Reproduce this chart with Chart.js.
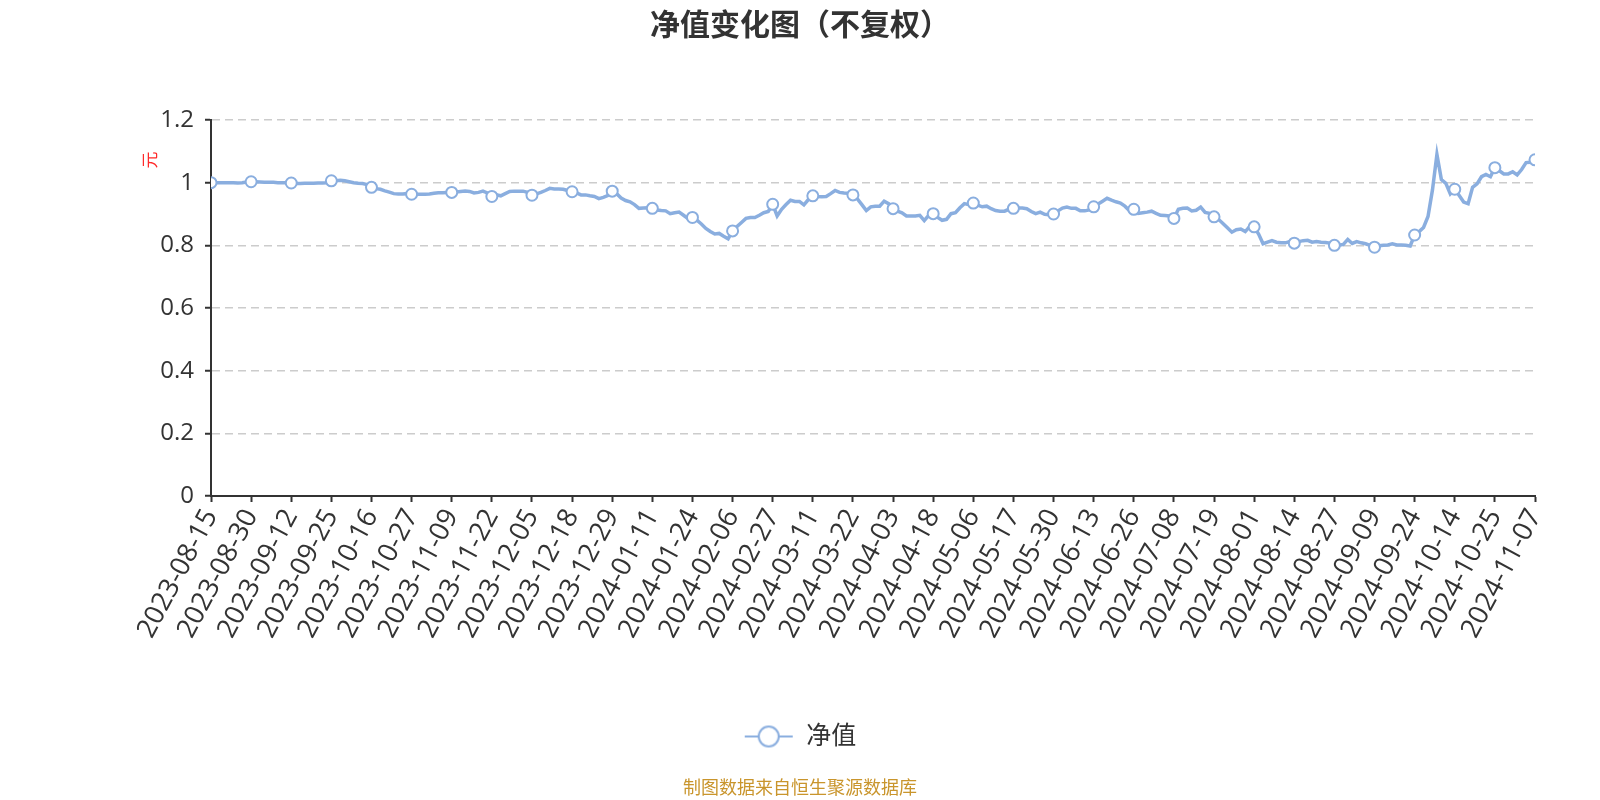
<!DOCTYPE html>
<html>
<head>
<meta charset="utf-8">
<title>净值变化图（不复权）</title>
<script src="https://cdn.jsdelivr.net/npm/chart.js@4.4.1/dist/chart.umd.min.js"></script>
<style>
  html, body { margin: 0; padding: 0; background: #fff; }
  #wrap { width: 1600px; height: 800px; }
</style>
</head>
<body>
<div id="wrap"><canvas id="navChart" width="1600" height="800"></canvas></div>
<script>
// axis labels, one every 9 trading days
const tickLabels = [
  '2023-08-15', '2023-08-30', '2023-09-12', '2023-09-25', '2023-10-16', '2023-10-27',
  '2023-11-09', '2023-11-22', '2023-12-05', '2023-12-18', '2023-12-29', '2024-01-11',
  '2024-01-24', '2024-02-06', '2024-02-27', '2024-03-11', '2024-03-22', '2024-04-03',
  '2024-04-18', '2024-05-06', '2024-05-17', '2024-05-30', '2024-06-13', '2024-06-26',
  '2024-07-08', '2024-07-19', '2024-08-01', '2024-08-14', '2024-08-27', '2024-09-09',
  '2024-09-24', '2024-10-14', '2024-10-25', '2024-11-07'
];
const markerStep = 9;

// net value per trading day (yuan)
const navValues = [
  1.000, 1.000, 1.000, 1.000, 1.000, 1.000, 0.999, 1.000, 1.002, 1.003,
  1.003, 1.002, 1.001, 1.001, 1.001, 1.000, 1.000, 1.000, 0.999,
  0.997, 0.997, 0.998, 0.998, 0.998, 0.999, 0.999, 1.000, 1.006,
  1.006, 1.008, 1.006, 1.003, 1.000, 0.998, 0.997, 0.994, 0.985,
  0.981, 0.979, 0.974, 0.970, 0.965, 0.964, 0.964, 0.965, 0.963,
  0.963, 0.963, 0.963, 0.964, 0.966, 0.968, 0.968, 0.969, 0.969,
  0.970, 0.972, 0.973, 0.972, 0.967, 0.969, 0.973, 0.967, 0.956,
  0.961, 0.958, 0.965, 0.972, 0.973, 0.973, 0.973, 0.969, 0.960,
  0.964, 0.969, 0.975, 0.982, 0.980, 0.980, 0.979, 0.975, 0.971,
  0.967, 0.961, 0.961, 0.958, 0.956, 0.949, 0.953, 0.959, 0.973,
  0.965, 0.951, 0.943, 0.939, 0.930, 0.918, 0.919, 0.920, 0.918,
  0.913, 0.911, 0.910, 0.901, 0.904, 0.906, 0.896, 0.885, 0.889,
  0.880, 0.868, 0.854, 0.844, 0.836, 0.838, 0.829, 0.821, 0.846,
  0.860, 0.873, 0.886, 0.889, 0.889, 0.896, 0.904, 0.908, 0.931,
  0.894, 0.915, 0.930, 0.944, 0.940, 0.940, 0.929, 0.946, 0.958,
  0.956, 0.955, 0.956, 0.965, 0.975, 0.969, 0.967, 0.966, 0.961,
  0.948, 0.930, 0.911, 0.923, 0.925, 0.925, 0.941, 0.933, 0.917,
  0.909, 0.904, 0.894, 0.894, 0.894, 0.896, 0.879, 0.896, 0.901,
  0.889, 0.880, 0.883, 0.901, 0.904, 0.920, 0.933, 0.930, 0.935,
  0.928, 0.923, 0.925, 0.917, 0.911, 0.909, 0.909, 0.915, 0.918,
  0.919, 0.919, 0.917, 0.908, 0.901, 0.906, 0.899, 0.898, 0.900,
  0.910, 0.919, 0.922, 0.918, 0.918, 0.910, 0.910, 0.913, 0.923,
  0.932, 0.941, 0.950, 0.944, 0.939, 0.935, 0.925, 0.911, 0.915,
  0.902, 0.904, 0.906, 0.909, 0.902, 0.896, 0.895, 0.894, 0.886,
  0.915, 0.918, 0.919, 0.910, 0.912, 0.922, 0.905, 0.902, 0.891,
  0.883, 0.870, 0.856, 0.842, 0.850, 0.852, 0.844, 0.860, 0.859,
  0.836, 0.805, 0.810, 0.815, 0.810, 0.808, 0.808, 0.812, 0.807,
  0.812, 0.815, 0.816, 0.810, 0.812, 0.810, 0.809, 0.807, 0.800,
  0.800, 0.803, 0.819, 0.806, 0.812, 0.808, 0.805, 0.800, 0.794,
  0.799, 0.800, 0.801, 0.805, 0.801, 0.801, 0.800, 0.798, 0.833,
  0.844, 0.857, 0.892, 0.977, 1.090, 1.010, 0.998, 0.964, 0.979,
  0.959, 0.938, 0.933, 0.985, 0.996, 1.019, 1.026, 1.019, 1.048,
  1.038, 1.028, 1.028, 1.035, 1.025, 1.042, 1.064, 1.065, 1.073
];
const yTicks = [0, 0.2, 0.4, 0.6, 0.8, 1, 1.2];

const lineColor = '#8aaedf';
const textColor = '#333333';
const fontFamily = "'Open Sans', 'Noto Sans CJK SC', sans-serif";
Chart.defaults.font.family = fontFamily;
Chart.defaults.color = textColor;

// legend icon: short line with a hollow circle on it
const legendIcon = document.createElement('canvas');
legendIcon.width = 50;
legendIcon.height = 24;
const ictx = legendIcon.getContext('2d');
ictx.strokeStyle = lineColor;
ictx.lineWidth = 2;
ictx.beginPath();
ictx.moveTo(1, 12);
ictx.lineTo(49, 12);
ictx.stroke();
ictx.beginPath();
ictx.arc(25, 12, 10, 0, Math.PI * 2);
ictx.fillStyle = '#fff';
ictx.fill();
ictx.stroke();

// unit label next to the y axis and the source note at the bottom
const extraText = {
  id: 'extraText',
  afterDraw(chart) {
    const c = chart.ctx;
    c.save();
    c.fillStyle = '#ff2a2a';
    c.font = '17px ' + fontFamily;
    c.textAlign = 'center';
    c.textBaseline = 'middle';
    c.translate(151, 160);
    c.rotate(-Math.PI / 2);
    c.fillText('元', 0, 0);
    c.restore();

    c.save();
    c.fillStyle = '#c9952c';
    c.font = '18px ' + fontFamily;
    c.textAlign = 'center';
    c.textBaseline = 'middle';
    c.fillText('制图数据来自恒生聚源数据库', 800, 789);
    c.restore();
  }
};

new Chart(document.getElementById('navChart'), {
  type: 'line',
  data: {
    datasets: [{
      label: '净值',
      data: navValues.map((v, i) => ({ x: i, y: v })),
      borderColor: lineColor,
      borderWidth: 3.5,
      tension: 0,
      pointRadius: ctx => (ctx.dataIndex % markerStep === 0 ? 5.5 : 0),
      pointBackgroundColor: '#ffffff',
      pointBorderColor: lineColor,
      pointBorderWidth: 2,
      pointStyle: 'circle'
    }]
  },
  options: {
    responsive: false,
    animation: false,
    events: [],
    layout: { padding: { left: 65, right: 65, top: 0, bottom: 41 } },
    plugins: {
      title: {
        display: true,
        text: '净值变化图（不复权）',
        color: textColor,
        font: { size: 30, weight: 'bold' },
        padding: { top: 8, bottom: 76 }
      },
      legend: {
        position: 'bottom',
        labels: {
          usePointStyle: true,
          pointStyle: legendIcon,
          pointStyleWidth: 50,
          boxHeight: 24,
          padding: 10,
          color: textColor,
          font: { size: 25 }
        }
      },
      tooltip: { enabled: false }
    },
    scales: {
      x: {
        type: 'linear',
        min: 0,
        max: navValues.length - 1,
        afterBuildTicks: scale => {
          scale.ticks = tickLabels.map((_, i) => ({ value: i * markerStep }));
        },
        afterFit: scale => { scale.height = 218; },
        ticks: {
          autoSkip: false,
          minRotation: 62,
          maxRotation: 62,
          color: textColor,
          font: { size: 27 },
          padding: 2,
          callback: (value, index) => tickLabels[index]
        },
        grid: {
          drawOnChartArea: false,
          drawTicks: true,
          tickLength: 6,
          tickColor: textColor,
          tickWidth: 2
        },
        border: { color: textColor, width: 2 }
      },
      y: {
        min: 0,
        max: 1.2,
        afterBuildTicks: scale => {
          scale.ticks = yTicks.map(v => ({ value: v }));
        },
        afterFit: scale => { scale.width = 146; },
        ticks: {
          color: textColor,
          font: { size: 24 },
          padding: 11,
          callback: value => String(+value.toFixed(1))
        },
        grid: {
          color: ctx => (ctx.tick && ctx.tick.value === 0 ? 'rgba(0,0,0,0)' : '#cccccc'),
          lineWidth: 1.5,
          tickLength: 6,
          tickColor: textColor,
          tickWidth: 2
        },
        border: { color: textColor, width: 2, dash: [8, 5] }
      }
    }
  },
  plugins: [extraText]
});
</script>
</body>
</html>
